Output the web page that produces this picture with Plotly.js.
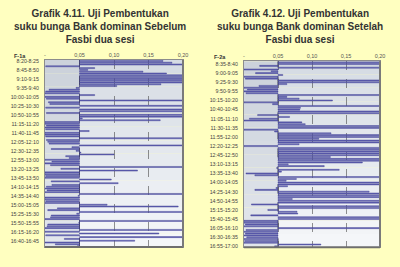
<!DOCTYPE html>
<html><head><meta charset="utf-8">
<script src="https://cdn.plot.ly/plotly-3.0.1.min.js"></script>
<style>html,body{margin:0;padding:0;background:#FFFFC0;}#chart{width:400px;height:267px;}</style>
</head><body><div id="chart"></div>
<script>
// ---- data ----
const BASE = 0.05;
const xTickVals = [0, 0.05, 0.10, 0.15, 0.20];
const xTickText = ['-', '0,05', '0,10', '0,15', '0,20'];

function timeLabels(startMin, count) {
  const out = [];
  const f = m => Math.floor(m / 60) + ':' + String(m % 60).padStart(2, '0');
  for (let i = 0; i < count; i++) { const s = startMin + 5 * i; out.push(f(s) + '-' + f(s + 5)); }
  return out;
}
const leftCats = timeLabels(8 * 60 + 20, 104);   // 8:20-8:25 ... 16:55-17:00
const rightCats = timeLabels(8 * 60 + 30, 102);  // 8:30-8:35 ... 16:55-17:00

const leftVals = [
0.171,0.184,0.200,0.001,0.072,0.062,0.142,0.176,0.200,0.200,
0.200,0.200,0.200,0.168,0.104,0.045,0.006,0.001,0.000,0.072,
0.000,0.002,0.200,0.005,0.007,0.200,0.001,0.200,0.200,0.002,
0.200,0.200,0.054,0.167,0.000,0.000,0.002,0.000,0.001,0.064,
0.000,0.000,0.001,0.200,0.002,0.004,0.006,0.200,0.039,0.009,
0.045,0.052,0.100,0.030,0.035,0.000,0.010,0.000,0.008,0.200,
0.023,0.134,0.000,0.000,0.001,0.000,0.096,0.009,0.106,0.010,
0.002,0.000,0.003,0.000,0.200,0.048,0.000,0.000,0.001,0.000,
0.090,0.193,0.018,0.004,0.200,0.046,0.009,0.008,0.000,0.200,
0.049,0.004,0.003,0.000,0.200,0.000,0.165,0.001,0.200,0.028,
0.130,0.000,0.015,0.047];

const rightVals = [
0.200,0.200,0.023,0.200,0.000,0.040,0.017,0.057,0.000,0.002,
0.200,0.200,0.063,0.022,0.000,0.005,0.000,0.003,0.200,0.063,
0.081,0.130,0.000,0.042,0.200,0.083,0.082,0.200,0.200,0.020,
0.067,0.008,0.000,0.085,0.090,0.200,0.200,0.000,0.045,0.128,
0.200,0.200,0.110,0.200,0.200,0.081,0.000,0.200,0.200,0.200,
0.200,0.200,0.127,0.200,0.200,0.174,0.065,0.118,0.048,0.140,
0.055,0.003,0.016,0.200,0.077,0.062,0.200,0.200,0.064,0.047,
0.016,0.184,0.200,0.200,0.200,0.071,0.200,0.200,0.011,0.200,
0.200,0.035,0.078,0.079,0.010,0.200,0.200,0.000,0.000,0.002,
0.000,0.200,0.003,0.000,0.002,0.000,0.004,0.000,0.001,0.000,
0.113,0.045];

const leftTicks = leftCats.filter((c, i) => i % 5 === 0);
const rightTicks = rightCats.filter((c, i) => i % 5 === 1);

// ---- style ----
const W = 400, H = 267;
const FONT = 'Liberation Sans, Arial, sans-serif';
const barMarker = {color: '#6D6DB8', line: {color: '#30308C', width: 0.4}};

function bar(cats, vals, xa, ya) {
  return {type: 'bar', orientation: 'h', y: cats, x: vals.map(v => v - BASE), base: BASE,
    xaxis: xa, yaxis: ya, marker: barMarker, hoverinfo: 'skip', showlegend: false};
}

function xAxis(x0, x1, anchor) {
  return {domain: [x0 / W, x1 / W], range: [0, 0.2], side: 'top', anchor: anchor,
    tickmode: 'array', tickvals: xTickVals, ticktext: xTickText,
    showgrid: true, gridcolor: '#4a4a4a', griddash: 'dash', gridwidth: 0.6,
    zeroline: false, showline: true, mirror: true, linecolor: '#8C8C8C', linewidth: 1,
    ticks: '', tickfont: {family: FONT, size: 5.5, color: '#555'}, fixedrange: true};
}
function yAxis(y0, y1, cats, ticks, anchor) {
  return {domain: [1 - y1 / H, 1 - y0 / H], type: 'category', categoryarray: cats,
    autorange: 'reversed', tickmode: 'array', tickvals: ticks, ticktext: ticks,
    showgrid: false, zeroline: false, showline: true, mirror: true, linecolor: '#8C8C8C',
    ticks: '', ticklabelstandoff: 4, anchor: anchor,
    tickfont: {family: FONT, size: 5.3, color: '#444'}, fixedrange: true};
}

// gradient background bands
const shapes = [];
function bg(xref, yref) {
  const n = 14;
  for (let k = 0; k < n; k++) {
    const t = k / (n - 1);
    const mix = (a, b) => Math.round(a + (b - a) * t);
    const cR = `rgb(${mix(214,244)},${mix(220,246)},${mix(228,249)})`;
    const cL = `rgb(${mix(204,226)},${mix(210,230)},${mix(219,236)})`;
    const y0 = 1 - (k + 1) / n, y1 = 1 - k / n;
    shapes.push({type: 'rect', xref: xref, yref: yref + ' domain', x0: BASE, x1: 0.2, y0: y0, y1: y1,
      fillcolor: cR, line: {width: 0}, layer: 'below'});
    shapes.push({type: 'rect', xref: xref, yref: yref + ' domain', x0: 0, x1: BASE, y0: y0, y1: y1,
      fillcolor: cL, line: {width: 0}, layer: 'below'});
  }
  shapes.push({type: 'line', xref: xref + ' domain', yref: yref + ' domain', x0: 0, x1: 1, y0: 0, y1: 0,
    line: {color: '#6E6E6E', width: 2}, layer: 'above'});
  shapes.push({type: 'line', xref: xref + ' domain', yref: yref + ' domain', x0: 1, x1: 1, y0: 0, y1: 1,
    line: {color: '#7A7A7A', width: 2}, layer: 'above'});
  shapes.push({type: 'line', xref: xref, yref: yref + ' domain', x0: BASE, x1: BASE, y0: 0, y1: 1,
    line: {color: '#333', width: 0.8, dash: 'dash'}, layer: 'below'});
}
bg('x', 'y');
bg('x2', 'y2');

const titleFont = {family: FONT, size: 10, color: '#333'};
const annotations = [
  {xref: 'paper', yref: 'paper', x: 100 / W, y: 1 - 6 / H, xanchor: 'center', yanchor: 'top', showarrow: false,
    text: '<b>Grafik 4.11. Uji Pembentukan<br>suku bunga Bank dominan Sebelum<br>Fasbi dua sesi</b>', font: titleFont},
  {xref: 'paper', yref: 'paper', x: 300 / W, y: 1 - 6 / H, xanchor: 'center', yanchor: 'top', showarrow: false,
    text: '<b>Grafik 4.12. Uji Pembentukan<br>suku bunga Bank dominan Setelah<br>Fasbi dua sesi</b>', font: titleFont},
  {xref: 'paper', yref: 'paper', x: 20 / W, y: 1 - 56 / H, xanchor: 'center', yanchor: 'middle', showarrow: false,
    text: '<b>F-1a</b>', font: {family: FONT, size: 5.5, color: '#333'}},
  {xref: 'paper', yref: 'paper', x: 220 / W, y: 1 - 57 / H, xanchor: 'center', yanchor: 'middle', showarrow: false,
    text: '<b>F-2a</b>', font: {family: FONT, size: 5.5, color: '#333'}}
];

const layout = {
  width: W, height: H, margin: {l: 0, r: 0, t: 0, b: 0},
  paper_bgcolor: '#FFFFC0', plot_bgcolor: 'rgba(0,0,0,0)',
  bargap: 0.42, showlegend: false,
  xaxis: xAxis(45, 183, 'y'),
  yaxis: yAxis(60, 247, leftCats, leftTicks, 'x'),
  xaxis2: xAxis(244, 380, 'y2'),
  yaxis2: yAxis(61.3, 247.3, rightCats, rightTicks, 'x2'),
  shapes: shapes, annotations: annotations
};

Plotly.newPlot('chart', [bar(leftCats, leftVals, 'x', 'y'), bar(rightCats, rightVals, 'x2', 'y2')],
  layout, {staticPlot: true, displayModeBar: false});
</script></body></html>
